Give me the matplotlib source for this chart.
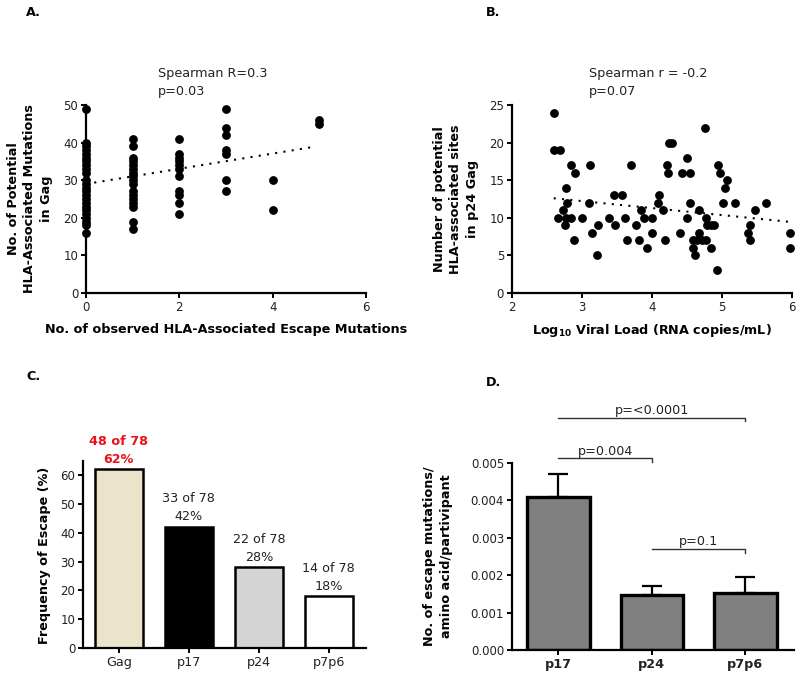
import matplotlib
matplotlib.use("Agg")
import matplotlib.pyplot as plt
import numpy as np

plt.rcParams['font.family'] = ['DejaVu Sans']

# ---------------- Data ----------------
# Panel A
a_x0 = [0]*24
a_y0 = [49, 40, 39, 38, 37, 36, 35, 34, 33, 32, 30, 29, 28, 27, 26, 25, 24, 23, 22, 21, 20, 19, 18, 16]
a_x1 = [1]*17
a_y1 = [41, 39, 36, 35, 34, 33, 32, 31, 30, 29, 27, 26, 25, 24, 23, 19, 17]
a_x2 = [2]*11
a_y2 = [41, 37, 36, 35, 34, 33, 31, 27, 26, 24, 21]
a_x3 = [3]*7
a_y3 = [49, 44, 42, 38, 37, 30, 27]
a_x4 = [4]*2
a_y4 = [30, 22]
a_x5 = [5]*2
a_y5 = [46, 45]
a_trend_x = [0, 4.9]
a_trend_y = [29, 38.9]

# Panel B
b_vl = [2.60, 2.60, 2.69, 2.85, 2.90, 2.78, 2.79, 2.73, 2.66, 2.78, 2.85, 2.76, 2.89,
        3.00, 3.10, 3.12, 3.14, 3.23, 3.22, 3.39, 3.46, 3.47, 3.58, 3.62, 3.64, 3.70,
        3.78, 3.82, 3.84, 3.89, 3.93, 4.00, 4.00, 4.10, 4.09, 4.16, 4.19, 4.22, 4.23,
        4.24, 4.29, 4.40, 4.43, 4.50, 4.50, 4.55, 4.55, 4.59, 4.65, 4.72, 4.78, 4.59,
        4.62, 4.67, 4.68, 4.76, 4.77, 4.79, 4.84, 4.89, 4.85, 4.93, 4.94, 4.98, 5.08,
        5.05, 5.02, 5.19, 5.37, 5.41, 5.41, 5.47, 5.63, 5.98, 5.98]
b_sites = [24, 19, 19, 17, 16, 14, 12, 11, 10, 10, 10, 9, 7,
           10, 12, 17, 8, 9, 5, 10, 13, 9, 13, 10, 7, 17,
           9, 7, 11, 10, 6, 10, 8, 13, 12, 11, 7, 17, 16,
           20, 20, 8, 16, 18, 10, 16, 12, 7, 7, 7, 7, 6,
           5, 11, 8, 22, 10, 9, 9, 9, 6, 3, 17, 16, 15,
           14, 12, 12, 8, 9, 7, 11, 12, 8, 6]
b_trend_x = [2.6, 5.98]
b_trend_y = [12.6, 9.45]

# Panel C
c_cats = ['Gag', 'p17', 'p24', 'p7p6']
c_freq = [62, 42, 28, 18]
c_counts = ['48 of 78', '33 of 78', '22 of 78', '14 of 78']
c_pct = ['62%', '42%', '28%', '18%']
c_colors = ['#ebe4cb', '#000000', '#d4d4d4', '#ffffff']

# Panel D
d_cats = ['p17', 'p24', 'p7p6']
d_mean = [0.00409, 0.00146, 0.00151]
d_err = [0.00061, 0.00026, 0.00044]
d_pairs = [(0, 1), (0, 2), (1, 2)]
d_ptext = ['p=0.004', 'p=<0.0001', 'p=0.1']
d_levels = [0.005125, 0.0062, 0.0027]

# ---------------- Figure ----------------
W, H = 800, 679
fig = plt.figure(figsize=(W/100, H/100), dpi=100)

def ax_px(left, top, right, bottom):
    return fig.add_axes([left/W, 1-bottom/H, (right-left)/W, (bottom-top)/H])

def fx(px):
    return px/W

def fy(py):
    return 1 - py/H

FS = 8.5      # tick labels
FA = 9.2      # annotations
FL = 9.2      # bold axis labels

def style(ax):
    for s in ['top', 'right']:
        ax.spines[s].set_visible(False)
    for s in ['left', 'bottom']:
        ax.spines[s].set_linewidth(1.6)
    ax.tick_params(axis='both', direction='out', length=3.5, width=1.4,
                   labelsize=FS, pad=2, colors='black', labelcolor='#222222')

# Panel A
axA = ax_px(86, 105, 366, 293)
style(axA)
for xs, ys in [(a_x0, a_y0), (a_x1, a_y1), (a_x2, a_y2), (a_x3, a_y3), (a_x4, a_y4), (a_x5, a_y5)]:
    axA.plot(xs, ys, 'o', color='black', markersize=5.3, clip_on=False, zorder=3)
axA.plot(a_trend_x, a_trend_y, color='black', lw=1.5, linestyle=(0, (1, 3)))
axA.set_xlim(0, 6)
axA.set_ylim(0, 50)
axA.set_xticks([0, 2, 4, 6])
axA.set_yticks([0, 10, 20, 30, 40, 50])
fig.text(fx(158), fy(73), 'Spearman R=0.3', fontsize=FA, va='center', ha='left', color='#222222')
fig.text(fx(158), fy(91), 'p=0.03', fontsize=FA, va='center', ha='left', color='#222222')
fig.text(fx(226), fy(329), 'No. of observed HLA-Associated Escape Mutations', fontsize=FL,
         fontweight='bold', ha='center', va='center')
fig.text(fx(30), fy(199), 'No. of Potential\nHLA-Associated Mutations\nin Gag', fontsize=FL,
         fontweight='bold', ha='center', va='center', rotation=90, linespacing=1.35)
fig.text(fx(26), fy(13), 'A.', fontsize=FL, fontweight='bold', ha='left', va='center')

# Panel B
axB = ax_px(511.7, 105, 791.7, 293)
style(axB)
axB.plot(b_vl, b_sites, 'o', color='black', markersize=5.3, clip_on=False, zorder=3)
axB.plot(b_trend_x, b_trend_y, color='black', lw=1.5, linestyle=(0, (1, 3)))
axB.set_xlim(2, 6)
axB.set_ylim(0, 25)
axB.set_xticks([2, 3, 4, 5, 6])
axB.set_yticks([0, 5, 10, 15, 20, 25])
fig.text(fx(589), fy(73), 'Spearman r = -0.2', fontsize=FA, va='center', ha='left', color='#222222')
fig.text(fx(589), fy(91), 'p=0.07', fontsize=FA, va='center', ha='left', color='#222222')
fig.text(fx(652), fy(330), r'Log$_{\mathbf{10}}$ Viral Load (RNA copies/mL)', fontsize=FL,
         fontweight='bold', ha='center', va='center')
fig.text(fx(456), fy(199), 'Number of potential\nHLA-associated sites\nin p24 Gag', fontsize=FL,
         fontweight='bold', ha='center', va='center', rotation=90, linespacing=1.35)
fig.text(fx(486), fy(13), 'B.', fontsize=FL, fontweight='bold', ha='left', va='center')

# Panel C
axC = ax_px(83, 460.7, 366, 648)
style(axC)
xc = np.arange(len(c_cats))
axC.bar(xc, c_freq, width=0.68, color=c_colors, edgecolor='black', linewidth=1.8, zorder=2)
axC.set_xlim(-0.51, 3.53)
axC.set_ylim(0, 65)
axC.set_yticks([0, 10, 20, 30, 40, 50, 60])
axC.set_xticks(xc)
axC.set_xticklabels(c_cats, fontsize=FA)
for i in range(len(c_cats)):
    red = (i == 0)
    kw = dict(fontsize=FA, ha='center', va='center',
              color='#e8141b' if red else '#222222',
              fontweight='bold' if red else 'normal',
              textcoords='offset points', annotation_clip=False)
    axC.annotate(c_pct[i], (xc[i], c_freq[i]), xytext=(0, 10*0.72), **kw)
    axC.annotate(c_counts[i], (xc[i], c_freq[i]), xytext=(0, 28*0.72), **kw)
fig.text(fx(45), fy(555), 'Frequency of Escape (%)', fontsize=FL, fontweight='bold',
         ha='center', va='center', rotation=90)
fig.text(fx(26), fy(377), 'C.', fontsize=FL, fontweight='bold', ha='left', va='center')

# Panel D
axD = ax_px(511.7, 462.7, 794, 650)
style(axD)
xd = np.arange(len(d_cats))
axD.errorbar(xd, d_mean, yerr=[np.zeros(len(d_err)), d_err], fmt='none', ecolor='black',
             elinewidth=1.6, capsize=7, capthick=1.6, zorder=1)
axD.bar(xd, d_mean, width=0.67, color='#808080', edgecolor='black', linewidth=2.4, zorder=2)
axD.set_xlim(-0.5, 2.52)
axD.set_ylim(0, 0.005)
axD.set_yticks([0, 0.001, 0.002, 0.003, 0.004, 0.005])
axD.set_yticklabels(['%.3f' % v for v in [0, 0.001, 0.002, 0.003, 0.004, 0.005]])
axD.set_xticks(xd)
axD.set_xticklabels(d_cats, fontweight='bold', fontsize=FA)
tick_h = 0.0001
for (i0, i1), txt, lev in zip(d_pairs, d_ptext, d_levels):
    axD.plot([xd[i0], xd[i1], xd[i1]], [lev, lev, lev - tick_h], color='#333333', lw=1.0,
             clip_on=False)
    axD.annotate(txt, ((xd[i0] + xd[i1]) / 2, lev), xytext=(0, 7*0.72), textcoords='offset points',
                 ha='center', va='center', fontsize=FA, color='#222222', annotation_clip=False)
fig.text(fx(438), fy(556), 'No. of escape mutations/\namino acid/partivipant', fontsize=FL,
         fontweight='bold', ha='center', va='center', rotation=90, linespacing=1.35)
fig.text(fx(486), fy(383), 'D.', fontsize=FL, fontweight='bold', ha='left', va='center')

fig.savefig('out.png', dpi=100)
